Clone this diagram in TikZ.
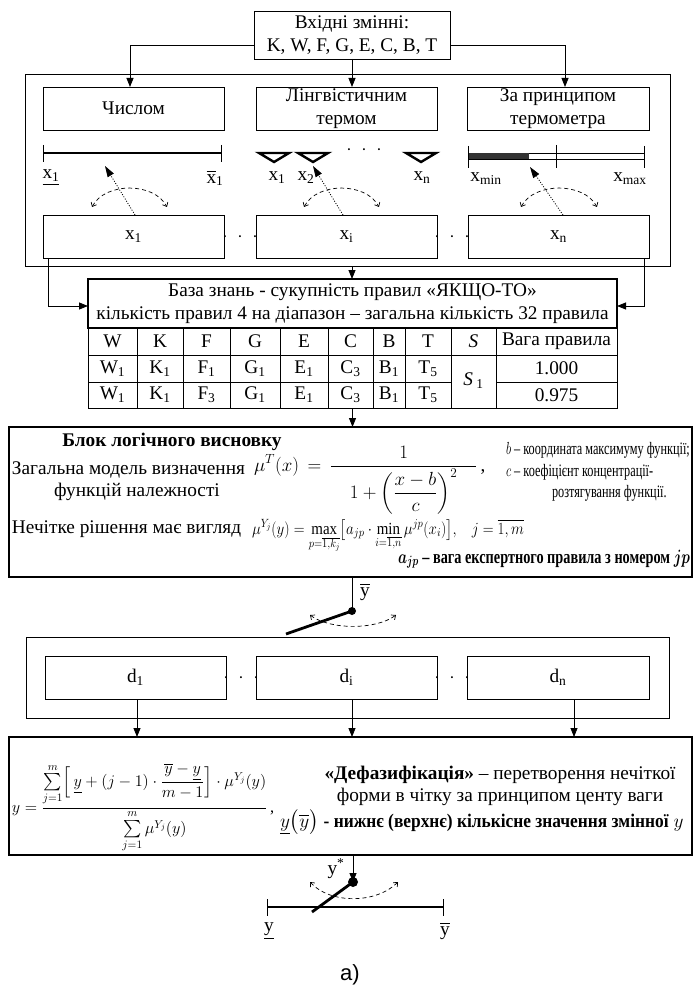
\documentclass[tikz,border=0pt]{standalone}
\usepackage{fix-cm}
\usepackage{fontspec}
\usepackage{amsmath}
\usepackage{graphicx}
\setmainfont{Liberation Serif}
\newfontfamily\sansf{Liberation Sans}
\usetikzlibrary{arrows.meta}
\newcommand\fs{\fontsize{19.3}{22.5}\selectfont}
\newcommand\fsm{\fontsize{17}{20}\selectfont}
\newcommand\fsr{\fontsize{17.5}{20}\selectfont}
\newcommand\ovl[1]{$\overline{\mbox{#1}}$}
\begin{document}
\begin{tikzpicture}[x=1pt,y=-1pt,
  box/.style={draw,line width=0.8pt,inner sep=0pt,outer sep=0pt,align=center,font=\fs},
  tbox/.style={draw,line width=2.6pt,inner sep=0pt,outer sep=0pt},
  hbox/.style={draw,line width=1.6pt,inner sep=0pt,outer sep=0pt,align=center,font=\fs},
  txt/.style={inner sep=0pt,outer sep=0pt,font=\fs},
  arr/.style={line width=0.8pt,-{Triangle[length=9pt,width=7pt]}},
  ln/.style={line width=0.8pt},
  heavy/.style={line width=2.8pt},
  darc/.style={line width=0.7pt,dash pattern=on 4pt off 3pt,{Straight Barb[length=3.5pt,width=6pt]}-{Straight Barb[length=3.5pt,width=6pt]}},
  dotarr/.style={line width=0.8pt,dash pattern=on 1pt off 1.6pt,-{Triangle[length=11pt,width=7pt]}},
  tri/.style={line width=2.4pt,line join=miter}
]
\useasboundingbox (0,0) rectangle (695,1008);

% input
\node[box,minimum width=196,minimum height=48] (inp) at (352,35) {Вхідні змінні:\\K, W, F, G, E, C, B, T};
% outer box 1
\node[box,minimum width=645,minimum height=192] (outer1) at (347.5,170) {};
% top boxes
\node[box,minimum width=181,minimum height=43] (bA) at (133.5,108.5) {Числом};
\node[box,minimum width=181,minimum height=43] (bB) at (346.5,108.5) {Лінгвістичним\\термом};
\node[box,minimum width=182,minimum height=43] (bC) at (558,108.5) {За принципом\\термометра};
\draw[arr] ([yshift=-10pt]inp.west) -| ([xshift=-3.5pt]bA.north);
\draw[arr] ([yshift=-10pt]inp.east) -| ([xshift=7pt]bC.north);
\draw[arr] (inp.south) -- (inp.south |- bB.north);

% number scale
\draw[heavy] (43,153) -- (221,153);
\draw[ln] (43,145) -- (43,162);
\draw[ln] (221,145) -- (221,162);
\node[txt] (lx1) at (51,178) {\underline{x\textsubscript{1}}};
\node[txt] (lx1b) at (215,178) {\ovl{x}\textsubscript{1}};

% linguistic terms
\draw[tri] (259,153) -- (289,153) -- (274,162) -- cycle;
\draw[tri] (298,153) -- (328,153) -- (313,162) -- cycle;
\draw[tri] (406,153) -- (436,153) -- (421,162) -- cycle;
\node[txt] (tdots) at (364,150) {$\cdot\;\cdot\;\cdot$};
\node[txt] (lt1) at (277,178) {x\textsubscript{1}};
\node[txt] (lt2) at (306,178) {x\textsubscript{2}};
\node[txt] (ltn) at (422,178) {x\textsubscript{n}};

% thermometer
\draw[ln] (468,153) rectangle (644,159);
\fill[black!80] (468,153) rectangle (529,159);
\draw[ln] (468,146) -- (468,168);
\draw[ln] (644,146) -- (644,168);
\draw[ln] (556,145) -- (556,168);
\node[txt] (lmin) at (486,179) {x\textsubscript{min}};
\node[txt] (lmax) at (630,179) {x\textsubscript{max}};

% x boxes
\node[box,minimum width=181,minimum height=43] (bx1) at (133.5,236.5) {x\textsubscript{1}};
\node[box,minimum width=181,minimum height=43] (bxi) at (346.5,236.5) {x\textsubscript{i}};
\node[box,minimum width=181,minimum height=43] (bxn) at (558.5,236.5) {x\textsubscript{n}};
\node[txt] (xd1) at (240,237) {$\cdot\;\cdot\;\cdot$};
\node[txt] (xd2) at (452,237) {$\cdot\;\cdot\;\cdot$};

% switches (arcs + dotted arrows)
\coordinate (a1l) at (92,207); \coordinate (a1r) at (167,207);
\coordinate (a2l) at (304,207); \coordinate (a2r) at (379,207);
\coordinate (a3l) at (521,207); \coordinate (a3r) at (597,207);
\draw[darc] (a1l) .. controls (105,182) and (154,182) .. (a1r);
\draw[darc] (a2l) .. controls (317,182) and (366,182) .. (a2r);
\draw[darc] (a3l) .. controls (534,182) and (584,182) .. (a3r);
\coordinate (p1) at (105,166); \coordinate (p2) at (313,166); \coordinate (p3) at (530,167);
\draw[dotarr] ([xshift=1.5pt]bx1.north) -- (p1);
\draw[dotarr] ([xshift=-3.5pt]bxi.north) -- (p2);
\draw[dotarr] ([xshift=4.5pt]bxn.north) -- (p3);

% knowledge base
\node[hbox,minimum width=529,minimum height=49] (base) at (352.5,303.5) {База знань - сукупність правил «ЯКЩО-ТО»\\кількість правил 4 на діапазон – загальна кількість 32 правила};
\draw[arr] ([xshift=4.5pt]outer1.south) -- ([xshift=4.5pt]outer1.south |- base.north);
\draw[arr] ([xshift=5pt]bx1.south west) |- ([yshift=-2.5pt]base.west);
\draw[arr] ([xshift=-5pt]bxn.south east) |- ([yshift=-2.5pt]base.east);

% table
\node[draw,line width=0.8pt,minimum width=529,minimum height=80,inner sep=0pt,outer sep=0pt] (tbl) at (352.5,368) {};
\foreach \x in {137,183,230,280,328,373,405,451,496} \draw[ln] (\x,328) -- (\x,408);
\draw[ln] (88,355) -- (617,355);
\draw[ln] (88,382) -- (451,382);
\draw[ln] (496,382) -- (617,382);
\foreach \x/\t [count=\i] in {112.5/W,160/K,206.5/F,255/G,304/E,350.5/C,389/B,428/T,473.5/\textit{S},556.5/Вага правила}
  \node[txt] (h\i) at (\x,341.5) {\t};
\foreach \x/\t/\s [count=\i] in {112.5/W/1,160/K/1,206.5/F/1,255/G/1,304/E/1,350.5/C/3,389/B/1,428/T/5}
  \node[txt] (ra\i) at (\x,368.5) {\t\textsubscript{\s}};
\foreach \x/\t/\s [count=\i] in {112.5/W/1,160/K/1,206.5/F/3,255/G/1,304/E/1,350.5/C/3,389/B/1,428/T/5}
  \node[txt] (rb\i) at (\x,395) {\t\textsubscript{\s}};
\node[txt] (s1) at (473.5,381) {\textit{S}\,\textsubscript{1}};
\node[txt] (w1) at (556.5,368.5) {1.000};
\node[txt] (w2) at (556.5,395) {0.975};

% logic block
\node[tbox,minimum width=683,minimum height=150] (logic) at (350.5,502) {};
\draw[arr] (tbl.south) -- (tbl.south |- logic.north);
\node[txt,font=\fs\bfseries] (lt) at (172,442) {Блок логічного висновку};
\node[txt,anchor=base west] (lg1) at (12,474) {Загальна модель визначення};
\node[txt,anchor=base] (lg2) at (137,496) {функцій належності};
\node[txt,anchor=base west,font=\fontsize{19}{23}\selectfont] (fm1) at (254,471) {$\displaystyle\mu^{T}\!\left(x\right)\,=\,\frac{1}{\quad1+\left(\dfrac{x-b}{c}\right)^{2}\quad}$\,,};
\node[txt,anchor=base west,font=\fsr] (rb) at (506,454) {\scalebox{0.7}[1]{$b$ – координата максимуму функції;}};
\node[txt,anchor=base west,font=\fsr] (rc) at (506,476) {\scalebox{0.7}[1]{$c$ – коефіцієнт концентрації-}};
\node[txt,anchor=base west,font=\fsr] (rr) at (552,497) {\scalebox{0.7}[1]{розтягування функції.}};
\node[txt,anchor=base west] (lg3) at (12,533) {Нечітке рішення має вигляд};
\node[txt,anchor=base west,font=\fsm] (fm2) at (252,534) {\scalebox{0.88}[1]{$\mu^{Y_j}(y)=\max\limits_{p=\overline{1,k_j}}\bigl[a_{jp}\cdot\min\limits_{i=\overline{1,n}}\mu^{jp}(x_i)\bigr],\;\;\; j=\overline{1,m}$}};
\node[txt,anchor=base east] (ajp) at (690,563) {\scalebox{0.74}[1]{\boldmath$a_{jp}$ \textbf{– вага експертного правила з номером} $jp$}};

% upper switch
\coordinate (sw1) at (352,611);
\coordinate (sw1e) at (286,634);
\draw[ln] (logic.south -| sw1) -- (sw1);
\draw[heavy] (sw1) -- (sw1e);
\fill (sw1) circle (4);
\node[txt] (ly1) at (365,592) {\ovl{y}};
\coordinate (b1l) at (310,615); \coordinate (b1r) at (396,615);
\draw[darc] (b1l) .. controls (330,630) and (376,630) .. (b1r);

% d boxes
\node[box,minimum width=643,minimum height=81] (outer2) at (347.5,677.5) {};
\node[box,minimum width=181,minimum height=43] (d1) at (135.5,677.5) {d\textsubscript{1}};
\node[box,minimum width=181,minimum height=43] (di) at (346.5,677.5) {d\textsubscript{i}};
\node[box,minimum width=182,minimum height=43] (dn) at (558,677.5) {d\textsubscript{n}};
\node[txt] (dd1) at (241,678) {$\cdot\;\cdot\;\cdot$};
\node[txt] (dd2) at (452,678) {$\cdot\;\cdot\;\cdot$};

% defuzzification block
\node[tbox,minimum width=683,minimum height=118] (defz) at (350.5,796) {};
\draw[arr] ([xshift=1.5pt]d1.south) -- ([xshift=1.5pt]d1.south |- defz.north);
\draw[arr] ([xshift=5.5pt]di.south) -- ([xshift=5.5pt]di.south |- defz.north);
\draw[arr] ([xshift=16pt]dn.south) -- ([xshift=16pt]dn.south |- defz.north);
\node[txt,anchor=base west,font=\fontsize{16.2}{20}\selectfont] (fm3) at (12,812) {$\displaystyle y=\frac{\sum\limits_{j=1}^{m}\Bigl[\,\underline{y}+(j-1)\cdot\dfrac{\overline{y}-\underline{y}}{m-1}\Bigr]\cdot\mu^{Y_j}(y)}{\sum\limits_{j=1}^{m}\mu^{Y_j}(y)}$\,,};
\node[txt,align=center] (dtx) at (500,786) {\textbf{«Дефазифікація»} – перетворення нечіткої\\форми в чітку за принципом центу ваги};
\node[txt,anchor=base west] (dty) at (280,827) {$\underline{y}\bigl(\overline{y}\bigr)$ \scalebox{0.9}[1]{\textbf{- нижнє (верхнє) кількісне значення змінної}} $y$};

% lower switch
\coordinate (sw2) at (353,882);
\coordinate (sw2e) at (312,912);
\draw[arr] (defz.south -| sw2) -- (sw2);
\draw[heavy] (sw2) -- (sw2e);
\fill (sw2) circle (5);
\node[txt] (lys) at (336,869) {y\textsuperscript{*}};
\coordinate (b2l) at (310,882); \coordinate (b2r) at (398,882);
\draw[darc] (b2l) .. controls (330,904) and (376,904) .. (b2r);
\coordinate (sl) at (267,907); \coordinate (sr) at (443,907);
\draw[heavy] (sl) -- (sr);
\draw[ln] (267,899) -- (267,916);
\draw[ln] (443,899) -- (443,916);
\node[txt] (lyl) at (269,931) {\underline{y}};
\node[txt] (lyr) at (445,931) {\ovl{y}};

\node[txt,font=\sansf\fontsize{22}{26}\selectfont] (cap) at (350,975) {a)};
\end{tikzpicture}
\end{document}
